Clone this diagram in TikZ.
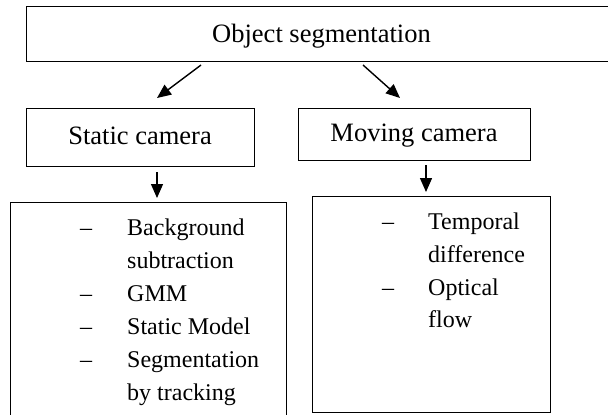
\documentclass[tikz,border=0pt]{standalone}
\usepackage{fontspec}
\setmainfont{Liberation Serif}
\usetikzlibrary{arrows.meta}
\begin{document}
\begin{tikzpicture}[x=1pt,y=-1pt,
  box/.style={draw,line width=1.1pt,inner sep=0pt,anchor=north west},
  conn/.style={line width=1.4pt,-{Triangle[length=14pt,width=12pt]}},
  txt/.style={inner sep=0pt,font=\fontsize{24}{32}\selectfont},
  lbl/.style={inner sep=0pt,anchor=base,font=\fontsize{26.5}{32}\selectfont},
  item/.style={txt,anchor=base west}]
\useasboundingbox (0,0) rectangle (608,415);
% boxes
\node[box,minimum width=585pt,minimum height=55pt] (top) at (26,6) {};
\node[box,minimum width=228pt,minimum height=58pt] (static) at (26,108) {};
\node[box,minimum width=232pt,minimum height=52pt] (moving) at (298,108) {};
\node[box,minimum width=276pt,minimum height=218pt] (leftlist) at (10,202) {};
\node[box,minimum width=238pt,minimum height=216pt] (rightlist) at (312,196) {};
% labels
\node[lbl] (toptxt) at (321.5,42) {Object segmentation};
\node[lbl] (statictxt) at (140,144) {Static camera};
\node[lbl] (movingtxt) at (414,141) {Moving camera};
% arrow end points
\coordinate (a1s) at (201,65);
\coordinate (a1e) at (157,98);
\coordinate (a2s) at (363,65);
\coordinate (a2e) at (400,98);
\coordinate (a3s) at (157,172);
\coordinate (a3e) at (157,198);
\coordinate (a4s) at (426,165);
\coordinate (a4e) at (426,192);
\draw[conn] (a1s) -- (a1e);
\draw[conn] (a2s) -- (a2e);
\draw[conn] (a3s) -- (a3e);
\draw[conn] (a4s) -- (a4e);
% left list
\node[item] (d1) at (80,235) {–};
\node[item] (l1a) at (127,235) {Background};
\node[item] (l1b) at (127,268) {subtraction};
\node[item] (d2) at (80,301) {–};
\node[item] (l2) at (127,301) {GMM};
\node[item] (d3) at (80,334) {–};
\node[item] (l3) at (127,334) {Static Model};
\node[item] (d4) at (80,367) {–};
\node[item] (l4a) at (127,367) {Segmentation};
\node[item] (l4b) at (127,400) {by tracking};
% right list
\node[item] (e1) at (382,229) {–};
\node[item] (r1a) at (428,229) {Temporal};
\node[item] (r1b) at (428,262) {difference};
\node[item] (e2) at (382,295) {–};
\node[item] (r2a) at (428,295) {Optical};
\node[item] (r2b) at (428,327) {flow};
\end{tikzpicture}
\end{document}
